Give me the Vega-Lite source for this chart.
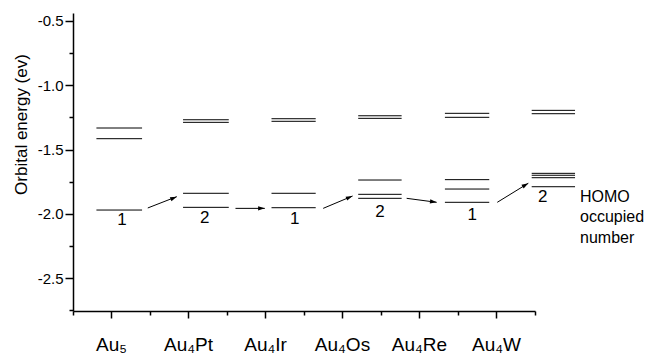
{
  "$schema": "https://vega.github.io/schema/vega-lite/v6.json",
  "width": 462,
  "height": 298,
  "autosize": {"type": "none"},
  "padding": {"left": 73, "top": 13, "right": 114, "bottom": 48},
  "background": "white",
  "config": {
    "view": {"stroke": null},
    "font": "Liberation Sans",
    "axis": {
      "domainColor": "black", "tickColor": "black", "labelColor": "black", "titleColor": "black",
      "grid": false, "labelFont": "Liberation Sans", "titleFont": "Liberation Sans",
      "titleFontWeight": "normal", "domainWidth": 1.5, "tickWidth": 1.5
    }
  },
  "datasets": {
    "levels": [
      {"mol": "Au5", "x1": 0.804, "x2": 1.397, "e": -1.333},
      {"mol": "Au5", "x1": 0.804, "x2": 1.397, "e": -1.416},
      {"mol": "Au5", "x1": 0.804, "x2": 1.397, "e": -1.970},
      {"mol": "Au4Pt", "x1": 1.929, "x2": 2.523, "e": -1.269},
      {"mol": "Au4Pt", "x1": 1.929, "x2": 2.523, "e": -1.289},
      {"mol": "Au4Pt", "x1": 1.929, "x2": 2.523, "e": -1.840},
      {"mol": "Au4Pt", "x1": 1.929, "x2": 2.523, "e": -1.949},
      {"mol": "Au4Ir", "x1": 3.078, "x2": 3.652, "e": -1.261},
      {"mol": "Au4Ir", "x1": 3.078, "x2": 3.652, "e": -1.281},
      {"mol": "Au4Ir", "x1": 3.078, "x2": 3.652, "e": -1.840},
      {"mol": "Au4Ir", "x1": 3.078, "x2": 3.652, "e": -1.952},
      {"mol": "Au4Os", "x1": 4.204, "x2": 4.768, "e": -1.238},
      {"mol": "Au4Os", "x1": 4.204, "x2": 4.768, "e": -1.258},
      {"mol": "Au4Os", "x1": 4.204, "x2": 4.768, "e": -1.737},
      {"mol": "Au4Os", "x1": 4.204, "x2": 4.768, "e": -1.848},
      {"mol": "Au4Os", "x1": 4.204, "x2": 4.768, "e": -1.879},
      {"mol": "Au4Re", "x1": 5.330, "x2": 5.906, "e": -1.219},
      {"mol": "Au4Re", "x1": 5.330, "x2": 5.906, "e": -1.250},
      {"mol": "Au4Re", "x1": 5.330, "x2": 5.906, "e": -1.734},
      {"mol": "Au4Re", "x1": 5.330, "x2": 5.906, "e": -1.807},
      {"mol": "Au4Re", "x1": 5.330, "x2": 5.906, "e": -1.910},
      {"mol": "Au4W", "x1": 6.457, "x2": 7.020, "e": -1.196},
      {"mol": "Au4W", "x1": 6.457, "x2": 7.020, "e": -1.222},
      {"mol": "Au4W", "x1": 6.457, "x2": 7.020, "e": -1.685},
      {"mol": "Au4W", "x1": 6.457, "x2": 7.020, "e": -1.700},
      {"mol": "Au4W", "x1": 6.457, "x2": 7.020, "e": -1.719},
      {"mol": "Au4W", "x1": 6.457, "x2": 7.020, "e": -1.789}
    ],
    "arrows": [
      {"x": 1.471, "y": -1.954, "x2": 1.848, "y2": -1.866, "dir": -23},
      {"x": 2.610, "y": -1.957, "x2": 2.991, "y2": -1.957, "dir": 0},
      {"x": 3.749, "y": -1.957, "x2": 4.131, "y2": -1.861, "dir": -23},
      {"x": 4.833, "y": -1.879, "x2": 5.223, "y2": -1.910, "dir": 8},
      {"x": 6.010, "y": -1.910, "x2": 6.413, "y2": -1.762, "dir": -31}
    ],
    "occ": [
      {"t": "1", "x": 1.137, "y": -2.047},
      {"t": "2", "x": 2.211, "y": -2.034},
      {"t": "1", "x": 3.381, "y": -2.042},
      {"t": "2", "x": 4.486, "y": -1.985},
      {"t": "1", "x": 5.685, "y": -2.008},
      {"t": "2", "x": 6.600, "y": -1.869}
    ],
    "legendText": [
      {"t": "HOMO", "x": 7.085, "y": -1.869},
      {"t": "occupied", "x": 7.085, "y": -2.024},
      {"t": "number", "x": 7.085, "y": -2.187}
    ],
    "cats": [
      {"mol": "Au₅"}, {"mol": "Au₄Pt"}, {"mol": "Au₄Ir"}, {"mol": "Au₄Os"}, {"mol": "Au₄Re"}, {"mol": "Au₄W"}
    ]
  },
  "layer": [
    {
      "data": {"name": "levels"},
      "mark": {"type": "rule", "stroke": "black", "strokeWidth": 1},
      "encoding": {
        "x": {"field": "x1", "type": "quantitative", "scale": {"domain": [0.5, 6.5], "nice": false, "zero": false}, "axis": null},
        "x2": {"field": "x2"},
        "y": {
          "field": "e", "type": "quantitative",
          "scale": {"domain": [-2.754, -0.44], "nice": false, "zero": false},
          "axis": {
            "orient": "left", "values": [-0.5, -1, -1.5, -2, -2.5],
            "labelExpr": "replace(format(datum.value, '.1f'), '\u2212', '-')",
            "tickSize": 8, "labelFontSize": 15, "labelPadding": 2,
            "title": "Orbital energy (ev)", "titleFontSize": 17,
            "titleX": -52, "titleY": 111, "titleAngle": -90, "titleAlign": "center", "titleBaseline": "middle"
          }
        }
      }
    },
    {
      "data": {"name": "arrows"},
      "mark": {"type": "rule", "stroke": "black", "strokeWidth": 1},
      "encoding": {
        "x": {"field": "x", "type": "quantitative", "scale": {"domain": [0.5, 6.5], "nice": false, "zero": false}, "axis": null},
        "x2": {"field": "x2"},
        "y": {
          "field": "y", "type": "quantitative",
          "axis": {"orient": "left", "values": [-0.75, -1.25, -1.75, -2.25, -2.75], "labels": false, "domain": false, "tickSize": 4, "title": null}
        },
        "y2": {"field": "y2"}
      }
    },
    {
      "data": {"name": "arrows"},
      "mark": {"type": "point", "shape": "M0,0L-1,-0.32L-1,0.32Z", "filled": true, "color": "black", "opacity": 1, "size": 180},
      "encoding": {
        "x": {"field": "x2", "type": "quantitative", "scale": {"domain": [0.5, 6.5], "nice": false, "zero": false}, "axis": null},
        "y": {"field": "y2", "type": "quantitative", "axis": null},
        "angle": {"field": "dir", "type": "quantitative", "scale": null}
      }
    },
    {
      "data": {"name": "occ"},
      "mark": {"type": "text", "fontSize": 17, "baseline": "middle", "align": "center", "color": "black", "font": "Liberation Sans"},
      "encoding": {
        "x": {"field": "x", "type": "quantitative", "scale": {"domain": [0.5, 6.5], "nice": false, "zero": false}, "axis": null},
        "y": {"field": "y", "type": "quantitative", "axis": null},
        "text": {"field": "t"}
      }
    },
    {
      "data": {"name": "legendText"},
      "mark": {"type": "text", "fontSize": 16, "baseline": "middle", "align": "left", "color": "black", "font": "Liberation Sans"},
      "encoding": {
        "x": {"field": "x", "type": "quantitative", "scale": {"domain": [0.5, 6.5], "nice": false, "zero": false}, "axis": null},
        "y": {"field": "y", "type": "quantitative", "axis": null},
        "text": {"field": "t"}
      }
    },
    {
      "data": {"name": "cats"},
      "mark": {"type": "point", "opacity": 0},
      "encoding": {
        "x": {
          "field": "mol", "type": "nominal", "sort": null,
          "scale": {"type": "band", "paddingInner": 0, "paddingOuter": 0},
          "axis": {"orient": "bottom", "labelAngle": 0, "tickSize": 7, "labelFontSize": 19, "labelPadding": 17, "title": null}
        }
      }
    },
    {
      "data": {"name": "cats"},
      "mark": {"type": "point", "opacity": 0},
      "encoding": {
        "x": {
          "field": "mol", "type": "nominal", "sort": null,
          "scale": {"type": "band", "paddingInner": 0, "paddingOuter": 0},
          "axis": {"orient": "bottom", "tickBand": "extent", "labels": false, "domain": false, "tickSize": 4, "title": null}
        }
      }
    }
  ],
  "resolve": {"scale": {"x": "independent"}, "axis": {"x": "independent", "y": "independent"}}
}
